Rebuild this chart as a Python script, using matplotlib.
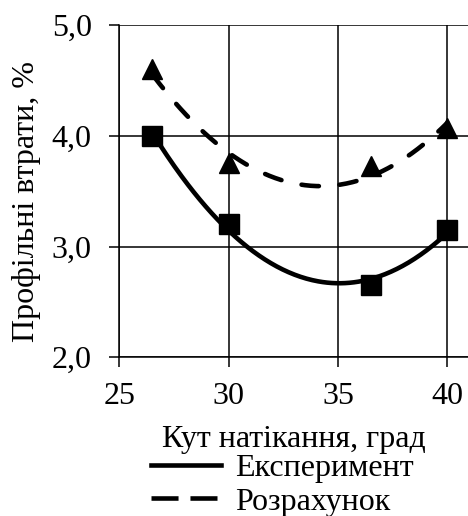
import numpy as np
import matplotlib.pyplot as plt
from matplotlib.lines import Line2D

plt.rcParams['font.family'] = ['Liberation Serif', 'DejaVu Serif']

# angle of attack, deg
angle = [26.5, 30.0, 36.5, 40.0]
# profile losses, %
experiment = [4.0, 3.2, 2.65, 3.15]
calculation = [4.6, 3.75, 3.73, 4.07]

y_ticks = [2.0, 3.0, 4.0, 5.0]
y_labels = ['2,0', '3,0', '4,0', '5,0']
x_ticks = [25, 30, 35, 40]

fig = plt.figure(figsize=(4.68, 5.16), dpi=100)
ax = fig.add_axes([0.2553, 0.3076, 0.7447, 0.6440])

# quadratic trend lines as in the original spreadsheet chart
xs = np.linspace(angle[0], angle[-1], 200)
fit_exp = np.polyval(np.polyfit(angle, experiment, 2), xs)
fit_calc = np.polyval(np.polyfit(angle, calculation, 2), xs)

lw = 3.3
ax.plot(xs, fit_exp, color='black', lw=lw, solid_capstyle='round')
ax.plot(xs, fit_calc, color='black', lw=lw, dashes=(3.8, 4.5), dash_capstyle='round')
ax.plot(angle, experiment, 's', color='black', ms=14.5)
ax.plot(angle, calculation, '^', color='black', ms=14.5)

ax.set_xlim(25, 40.95)
ax.set_ylim(2.0, 5.0)
ax.set_xticks(x_ticks)
ax.set_yticks(y_ticks)
ax.set_yticklabels(y_labels)
ax.grid(True, color='black', lw=1.1)
ax.set_axisbelow(True)
for side in ['top', 'right']:
    ax.spines[side].set_visible(False)
for side in ['left', 'bottom']:
    ax.spines[side].set_linewidth(1.1)
ax.tick_params(axis='both', direction='out', length=7, width=1.1, labelsize=23)
ax.tick_params(axis='y', pad=13)
ax.tick_params(axis='x', pad=11)

ax.set_xlabel('Кут натікання, град', fontsize=23, labelpad=10)
ax.set_ylabel('Профільні втрати, %', fontsize=23)
ax.yaxis.set_label_coords(-0.225, 0.47)

handles = [Line2D([], [], color='black', lw=lw),
           Line2D([], [], color='black', lw=lw, dashes=(5.9, 2.6))]
fig.legend(handles, ['Експеримент', 'Розрахунок'], loc='upper left',
           bbox_to_anchor=(0.322, 0.12), frameon=False, fontsize=23,
           handlelength=2.2, handletextpad=0.45, labelspacing=0.12,
           borderpad=0, borderaxespad=0)

fig.savefig('out.png', dpi=100)
